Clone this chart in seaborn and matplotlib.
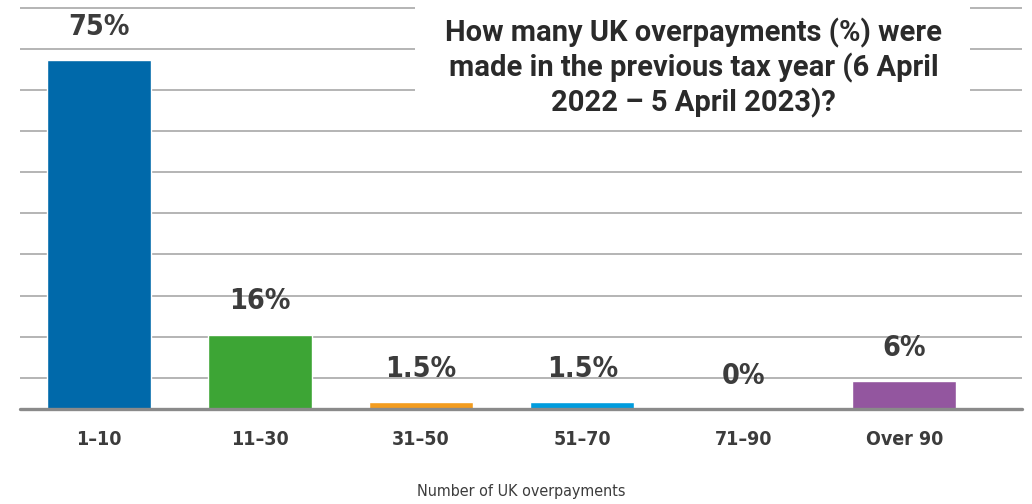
import matplotlib
matplotlib.use("Agg")
import matplotlib.pyplot as plt
from matplotlib.patches import Rectangle
import seaborn as sns
import pandas as pd

# Survey results: share of respondents by number of UK overpayments
categories = ["1\u201310", "11\u201330", "31\u201350", "51\u201370", "71\u201390", "Over 90"]
shares = [75, 16, 1.5, 1.5, 0, 6]
value_labels = ["75%", "16%", "1.5%", "1.5%", "0%", "6%"]
bar_colors = ["#0069AA", "#3DA535", "#F39C1F", "#009CDE", "#8E8E8E", "#93569F"]

title_text = ("How many UK overpayments (%) were\n"
              "made in the previous tax year (6 April\n"
              "2022 \u2013 5 April 2023)?")
x_title = "Number of UK overpayments"

df = pd.DataFrame({"category": categories, "share": shares})

sns.set_theme(style="white")
plt.rcParams["font.family"] = ["DejaVu Sans"]
plt.rcParams["font.stretch"] = "condensed"

fig = plt.figure(figsize=(10.32, 5.04), dpi=100)
ax = fig.add_axes([20 / 1032, (504 - 409) / 504, 1002 / 1032, 409 / 504])

sns.barplot(data=df, x="category", y="share", hue="category",
            palette=bar_colors, legend=False, width=0.646,
            saturation=1, ax=ax, zorder=3)

ax.set_xlim(-0.49, 5.73)
ax.set_ylim(0, 88)

# Horizontal guide lines
grid_levels = [6.7 + 8.85 * k for k in range(10)]
for g in grid_levels:
    ax.axhline(g, color="#B4B4B4", lw=1.4, zorder=1)
ax.axhline(0, color="#8A8A8A", lw=2.4, zorder=4, clip_on=False)

for side in ["top", "right", "left", "bottom"]:
    ax.spines[side].set_visible(False)
ax.set_yticks([])
ax.set_ylabel("")
ax.set_xlabel(x_title, fontsize=11.5, color="#3C3C3C", fontstretch="condensed")
ax.xaxis.set_label_coords(0.5, -0.183)
ax.tick_params(axis="x", length=0, pad=15)
for lbl in ax.get_xticklabels():
    lbl.set_fontsize(14)
    lbl.set_fontweight("bold")
    lbl.set_fontstretch("condensed")
    lbl.set_color("#3C3C3C")

# Value labels above each bar
for i, (v, txt) in enumerate(zip(shares, value_labels)):
    ax.annotate(txt, (i, v), xytext=(0, 14), textcoords="offset points",
                ha="center", va="bottom", fontsize=20.5, fontweight="bold",
                fontstretch="condensed", color="#3C3C3C", zorder=5)

# White panel behind the title, hiding the guide lines there
ax.add_patch(Rectangle((0.394, 0.72), 0.554, 0.3, transform=ax.transAxes,
                       facecolor="white", edgecolor="none", zorder=5,
                       clip_on=False))
ax.text(0.672, 0.955, title_text, transform=ax.transAxes,
        ha="center", va="top", fontsize=21, fontweight="bold",
        family=["Roboto", "DejaVu Sans"], fontstretch="normal",
        color="#2A2A2A", linespacing=1.2, zorder=6)

fig.savefig("out.png", dpi=100)
